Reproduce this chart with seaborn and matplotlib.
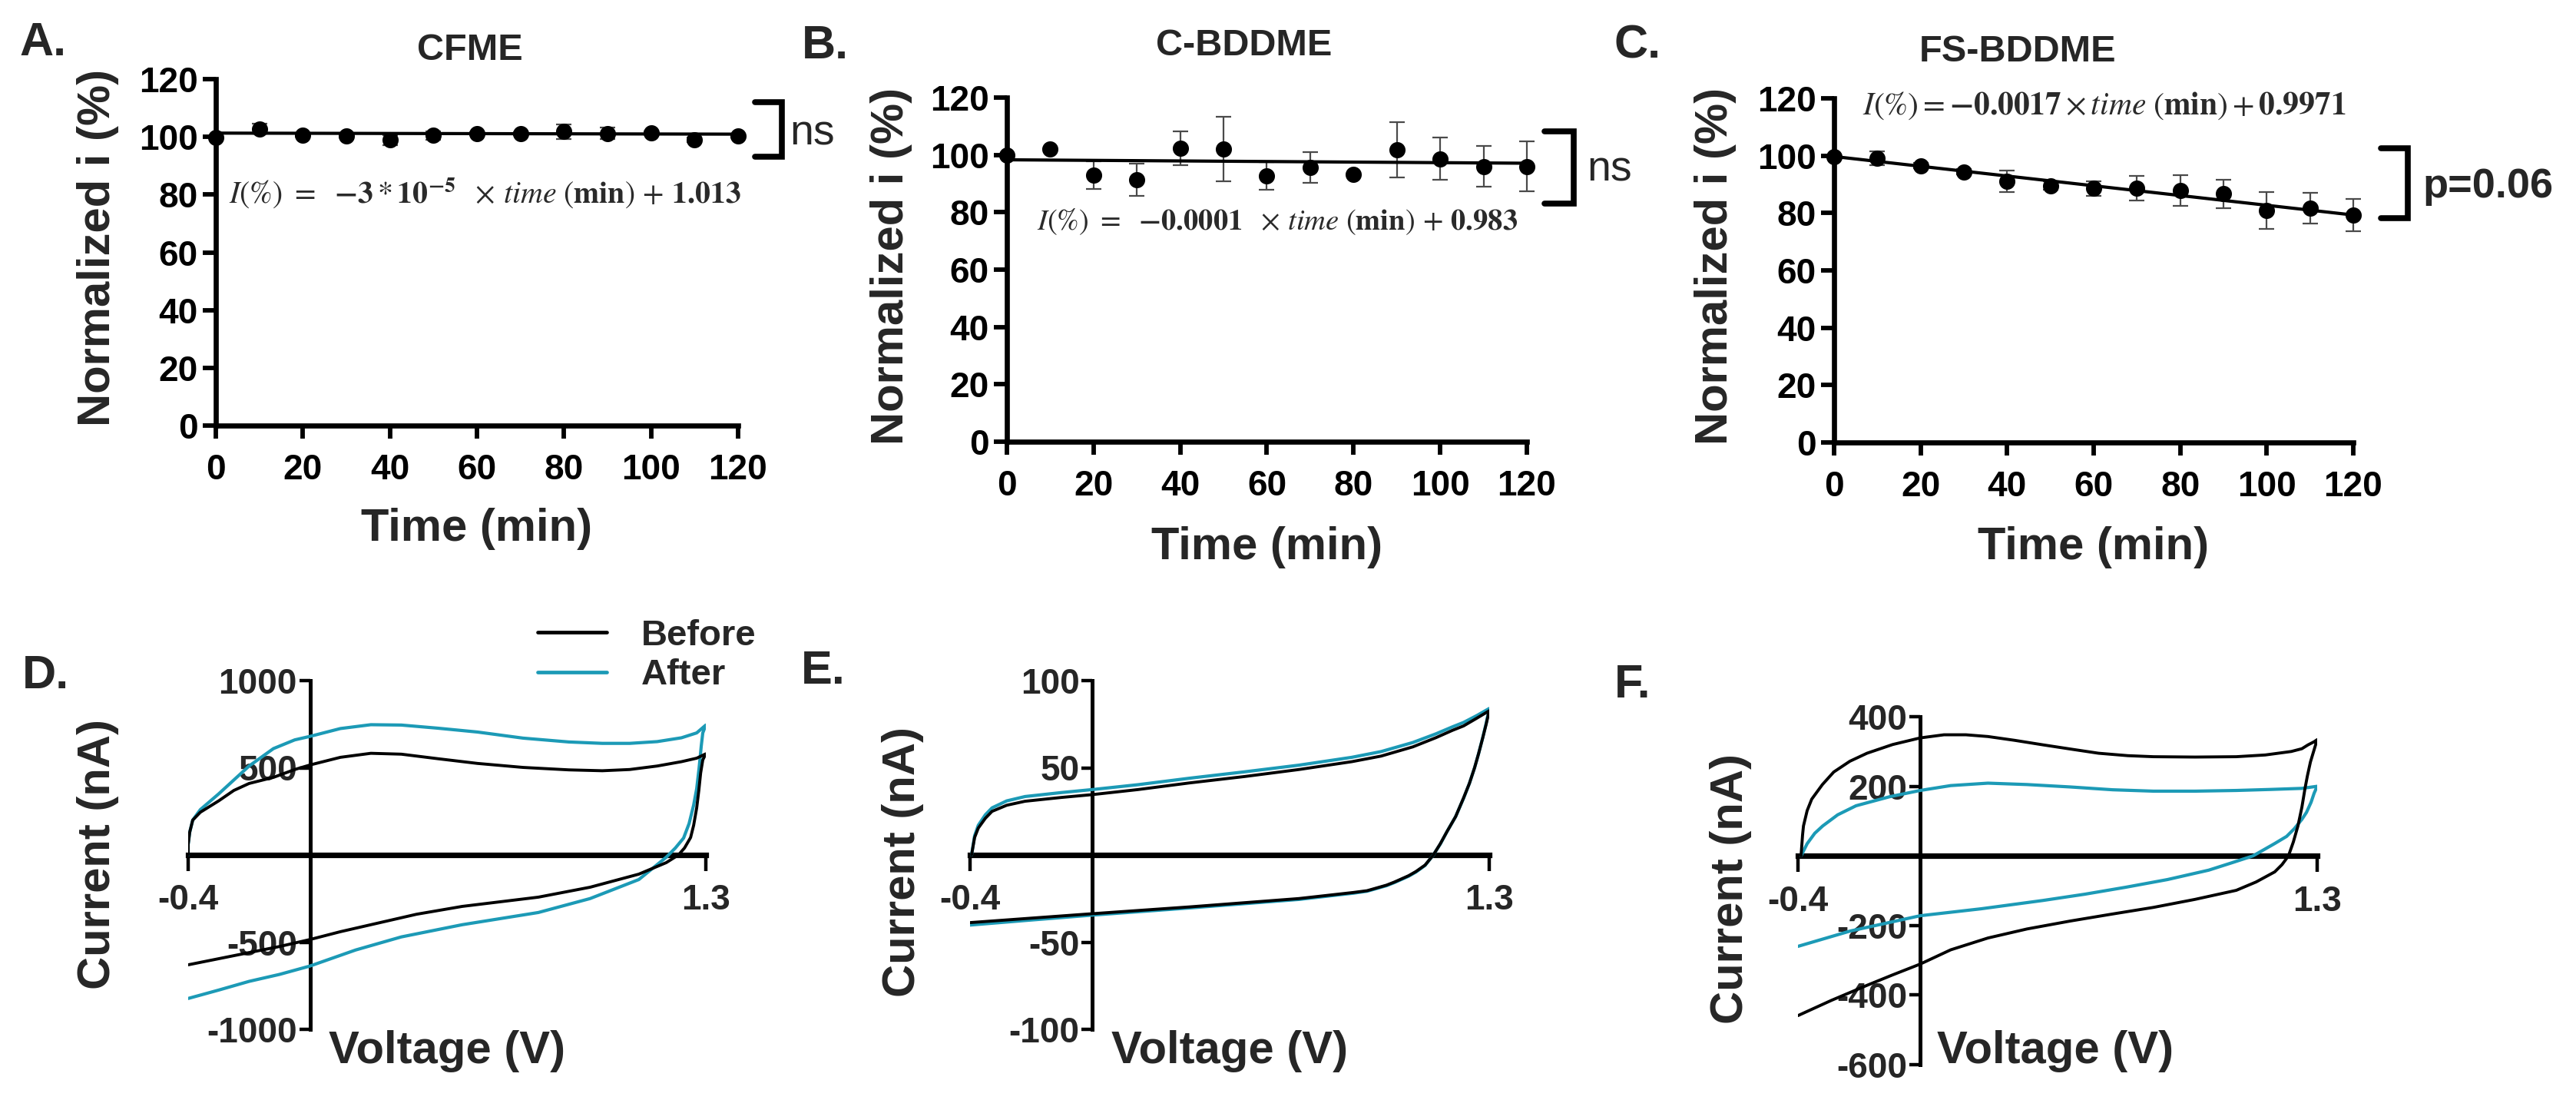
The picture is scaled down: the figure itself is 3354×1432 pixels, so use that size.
import numpy as np
import pandas as pd
import matplotlib
matplotlib.use("Agg")
import matplotlib.pyplot as plt
from matplotlib.lines import Line2D
import seaborn as sns

# ---------------- data ----------------
time_min = [0, 10, 20, 30, 40, 50, 60, 70, 80, 90, 100, 110, 120]
top_ticks = [0, 20, 40, 60, 80, 100, 120]

cfme_mean = [99.8, 102.8, 100.5, 100.4, 98.9, 100.5, 101.2, 101.2, 101.8, 101.2, 101.3, 99.0, 100.4]
cfme_err = [0.0, 1.8, 0.5, 0.5, 1.8, 1.5, 0.5, 0.5, 2.5, 2.0, 0.5, 0.8, 0.5]
cbdd_mean = [99.8, 102.1, 92.9, 91.3, 102.3, 102.1, 92.7, 95.6, 93.3, 101.7, 98.7, 96.0, 96.0]
cbdd_err = [0.0, 0.0, 4.9, 5.6, 6.0, 11.3, 4.8, 5.3, 0.0, 9.6, 7.3, 7.0, 8.6]
fsbd_mean = [99.6, 99.1, 96.5, 94.4, 91.0, 89.5, 88.6, 88.6, 87.9, 86.7, 80.9, 81.7, 79.3]
fsbd_err = [0.0, 2.3, 1.0, 1.0, 3.8, 1.5, 2.6, 4.3, 5.4, 4.9, 6.4, 5.3, 5.6]

# linear fits read from the printed equations (in %)
fit_slope = [-0.003, -0.01, -0.17]
fit_intercept = [101.3, 98.3, 99.71]

titles = ["CFME", "C-BDDME", "FS-BDDME"]
equations = [
    r"$I(\%)\ =\ \ \mathbf{-3} * \mathbf{10}^{\mathbf{-5}}\ \ \times\, \mathit{time}\ (\mathbf{min})\, +\, \mathbf{1.013}$",
    r"$I(\%)\ =\ \ \mathbf{-0.0001}\ \ \times\, \mathit{time}\ (\mathbf{min})\, +\, \mathbf{0.983}$",
    r"$I(\%) = \mathbf{-0.0017} \times \mathit{time}\ (\mathbf{min}) + \mathbf{0.9971}$",
]
sig_labels = ["ns", "ns", "p=0.06"]

# CV curves (voltage in V, current in nA), forward scan then reverse scan
d_before_v = [-0.40, -0.40, -0.395, -0.385, -0.36, -0.30, -0.25, -0.20, -0.12, -0.05, 0.00, 0.10, 0.20, 0.30,
              0.42, 0.55, 0.70, 0.85, 0.96, 1.05, 1.14, 1.22, 1.27, 1.30,
              1.29, 1.283, 1.277, 1.27, 1.26, 1.25, 1.23, 1.21, 1.17, 1.08, 0.92, 0.75, 0.50, 0.35,
              0.20, 0.10, 0.00, -0.10, -0.20, -0.30, -0.40]
d_before_i = [0, 60, 130, 200, 245, 310, 370, 410, 445, 490, 516, 560, 583, 578,
              552, 525, 502, 488, 483, 490, 510, 535, 555, 580,
              545, 470, 370, 270, 170, 100, 40, 0, -44, -110, -185, -242, -295, -340,
              -400, -440, -485, -525, -560, -595, -630]
d_after_v = [-0.40, -0.40, -0.395, -0.385, -0.36, -0.30, -0.25, -0.20, -0.12, -0.05, 0.00, 0.10, 0.20, 0.30,
             0.42, 0.55, 0.70, 0.85, 0.96, 1.05, 1.14, 1.22, 1.27, 1.30,
             1.29, 1.285, 1.278, 1.27, 1.26, 1.245, 1.227, 1.20, 1.17, 1.08, 0.92, 0.75, 0.50, 0.30,
             0.15, 0.00, -0.10, -0.20, -0.30, -0.40]
d_after_i = [0, 60, 130, 200, 260, 350, 430, 510, 610, 660, 680, 725, 747, 745,
             727, 705, 670, 648, 640, 640, 650, 672, 700, 745,
             700, 625, 500, 380, 286, 180, 97, 40, -13, -141, -250, -330, -400, -470,
             -545, -637, -685, -725, -775, -823]

e_before_v = [-0.395, -0.385, -0.373, -0.35, -0.328, -0.28, -0.22, -0.10, 0.00, 0.15, 0.318, 0.50, 0.677,
              0.85, 0.946, 1.05, 1.126, 1.18, 1.216, 1.26, 1.30,
              1.29, 1.279, 1.265, 1.252, 1.235, 1.216, 1.19, 1.162, 1.14, 1.117, 1.09, 1.06, 1.036, 0.99,
              0.964, 0.90, 0.856, 0.677, 0.318, 0.00, -0.22, -0.40]
e_before_i = [0, 10, 15.4, 21, 25, 28.5, 30.8, 33, 34.6, 37.5, 41.3, 45, 49,
              53.5, 56.7, 62, 67.3, 71.5, 74, 78.5, 82.7,
              75, 67.3, 58, 50, 41, 32.7, 22, 13.5, 6.5, 0, -5.8, -9.5, -11.9, -15.5,
              -17.3, -20.5, -21.5, -25, -29.8, -33.7, -36.5, -38.8]
e_after_v = [-0.395, -0.385, -0.373, -0.35, -0.328, -0.28, -0.22, -0.10, 0.00, 0.15, 0.318, 0.50, 0.677,
             0.85, 0.946, 1.05, 1.126, 1.18, 1.216, 1.26, 1.30,
             1.29, 1.279, 1.265, 1.252, 1.235, 1.216, 1.19, 1.162, 1.14, 1.117, 1.09, 1.06, 1.036, 0.99,
             0.964, 0.90, 0.856, 0.677, 0.318, 0.00, -0.22, -0.40]
e_after_i = [0, 11, 17, 23, 27, 31, 33.5, 35.8, 37.5, 40.3, 44, 47.7, 51.5,
             56, 59.3, 64.5, 69.5, 73.5, 76, 80, 84,
             75.5, 67.5, 58, 50, 41, 32.5, 22, 13.5, 6.3, 0, -6, -9.8, -12.2, -15.8,
             -17.6, -20.8, -21.9, -25.5, -30.4, -34.5, -37.6, -40.2]

f_before_v = [-0.39, -0.385, -0.382, -0.37, -0.355, -0.32, -0.283, -0.23, -0.174, -0.09, 0.00, 0.078, 0.15,
              0.222, 0.31, 0.403, 0.50, 0.584, 0.68, 0.764, 0.90, 1.035, 1.13, 1.215, 1.25, 1.27, 1.29, 1.30,
              1.29, 1.278, 1.268, 1.26, 1.25, 1.237, 1.222, 1.206, 1.185, 1.161, 1.10, 1.035, 0.90, 0.764,
              0.63, 0.493, 0.35, 0.222, 0.10, 0.00, -0.09, -0.174, -0.29, -0.40]
f_before_i = [0, 60, 86, 130, 163, 205, 241, 272, 295, 320, 339, 348, 348,
              343, 332, 319, 306, 295, 288, 285, 284, 285, 290, 300, 308, 319, 328, 334,
              305, 270, 230, 193, 140, 86, 40, 0, -25, -46, -75, -99, -125, -148,
              -167, -187, -210, -236, -270, -311, -342, -372, -415, -459]
f_after_v = [-0.39, -0.37, -0.345, -0.319, -0.27, -0.21, -0.10, 0.00, 0.10, 0.222, 0.35, 0.493, 0.63,
             0.764, 0.90, 1.035, 1.15, 1.25, 1.30,
             1.29, 1.28, 1.265, 1.25, 1.225, 1.20, 1.16, 1.125, 1.09, 1.02, 0.945, 0.81, 0.674,
             0.54, 0.403, 0.20, 0.00, -0.229, -0.40]
f_after_i = [0, 35, 65, 86, 118, 144, 170, 188, 202, 209, 205, 198, 190,
             186, 186, 188, 191, 194, 200,
             180, 154, 125, 105, 78, 56, 35, 17.5, 0, -20, -41, -68, -90,
             -110, -128, -152, -172, -216, -260]

cv_xticks = [-0.4, 1.3]
cv_xticklabels = ["-0.4", "1.3"]
d_yticks = [-1000, -500, 500, 1000]
e_yticks = [-100, -50, 50, 100]
f_yticks = [-600, -400, -200, 200, 400]
cv_ylims = [(-1000, 1000), (-100, 100), (-600, 400)]
legend_labels = ["Before", "After"]
panel_letters = ["A.", "B.", "C.", "D.", "E.", "F."]

# ---------------- style ----------------
sns.set_theme(style="ticks")
plt.rcParams["font.family"] = ["Liberation Sans", "DejaVu Sans"]
plt.rcParams["mathtext.fontset"] = "stix"
plt.rcParams["axes.unicode_minus"] = False

CYAN = "#1c9ab6"
W, H = 3355, 1432
fig = plt.figure(figsize=(W / 100, H / 100), dpi=100)
fig.patch.set_facecolor("white")


def px_axes(l, r, t, b):
    return fig.add_axes([l / W, 1 - b / H, (r - l) / W, (b - t) / H])


def ftext(x, y, s, **kw):
    return fig.text(x / W, 1 - y / H, s, **kw)


# ---------------- top panels ----------------
top_boxes = [(281, 961, 103, 554), (1311, 1988, 127, 575), (2388, 3064, 128, 576)]
means = [cfme_mean, cbdd_mean, fsbd_mean]
errs = [cfme_err, cbdd_err, fsbd_err]
eq_pos = [(3.0, 80.3), (6.9, 76.6), (6.6, 117.3)]
eq_width_px = [668, 625, 630]
bracket_x = [(123.8, 130.1), (124.1, 130.8), (126.4, 132.6)]
bracket_y = [(93, 112), (83, 108.2), (78.1, 102.7)]
sig_pos = [(131.8, 101.0), (133.8, 94.6), (136.0, 89.2)]
title_pos = [(612, 66), (1620, 60), (2627, 67)]
ylab_pos = [(128, 322), (1160, 346), (2234, 346)]
xlab_pos = [(621, 688), (1650, 712), (2726, 712)]

eq_texts = []
for k in range(3):
    ax = px_axes(*top_boxes[k])
    df = pd.DataFrame({"t": time_min, "i": means[k], "e": errs[k]})
    ax.errorbar(df["t"], df["i"], yerr=df["e"], fmt="none", ecolor="#4a4a4a",
                elinewidth=1.6, capsize=7, capthick=1.6, clip_on=False, zorder=3)
    fit_t = [time_min[0], time_min[-1]]
    fit_i = [fit_intercept[k] + fit_slope[k] * t for t in fit_t]
    sns.lineplot(x=fit_t, y=fit_i, color="black", linewidth=3.0, ax=ax, zorder=4)
    sns.scatterplot(data=df, x="t", y="i", color="black", s=230, linewidth=0,
                    ax=ax, clip_on=False, zorder=5)
    ax.set_xlim(0, 120)
    ax.set_ylim(0, 120)
    ax.set_xticks(top_ticks)
    ax.set_yticks(top_ticks)
    ax.set_xlabel("")
    ax.set_ylabel("")
    sns.despine(ax=ax)
    for sp in ("left", "bottom"):
        ax.spines[sp].set_linewidth(4.8)
        ax.spines[sp].set_color("black")
    ax.tick_params(axis="both", width=4.2, length=12, color="black",
                   labelsize=33, labelcolor="black")
    ax.tick_params(axis="x", pad=14)
    ax.tick_params(axis="y", pad=5)
    for lab in ax.get_xticklabels() + ax.get_yticklabels():
        lab.set_fontweight("bold")
    ax.set_facecolor("white")

    t = ax.text(eq_pos[k][0], eq_pos[k][1], equations[k], fontsize=28, color="#2a2a2a",
                ha="left", va="center")
    eq_texts.append(t)
    bx0, bx1 = bracket_x[k]
    by0, by1 = bracket_y[k]
    ax.plot([bx0, bx1, bx1, bx0], [by1, by1, by0, by0], color="black", lw=5.5,
            clip_on=False, solid_joinstyle="miter")
    ax.text(sig_pos[k][0], sig_pos[k][1], sig_labels[k], fontsize=40 if k < 2 else 39,
            fontweight="normal" if k < 2 else "bold", ha="left", va="center", clip_on=False)

    ftext(*title_pos[k], titles[k], fontsize=35, fontweight="bold", ha="center", va="center")
    ftext(*ylab_pos[k], "Normalized i (%)", fontsize=43, fontweight="bold", rotation=90,
          ha="center", va="center")
    ftext(*xlab_pos[k], "Time (min)", fontsize=43, fontweight="bold", ha="center", va="center")

# ---------------- bottom panels ----------------
bot_boxes = [(245, 919, 886, 1340), (1263, 1939, 886, 1340), (2341, 3017, 933, 1386)]
cv_data = [(d_before_v, d_before_i, d_after_v, d_after_i),
           (e_before_v, e_before_i, e_after_v, e_after_i),
           (f_before_v, f_before_i, f_after_v, f_after_i)]
cv_yticks = [d_yticks, e_yticks, f_yticks]
cur_lab_pos = [(128, 1112), (1176, 1122), (2254, 1157)]
volt_lab_x = [428, 1447, 2522]

for k in range(3):
    ax = px_axes(*bot_boxes[k])
    bv, bi, av, ai = cv_data[k]
    sns.lineplot(x=av, y=ai, sort=False, estimator=None, color=CYAN, linewidth=3.0,
                 ax=ax, zorder=3)
    sns.lineplot(x=bv, y=bi, sort=False, estimator=None, color="black", linewidth=2.8,
                 ax=ax, zorder=4)
    ax.set_xlim(-0.4, 1.3)
    ax.set_ylim(*cv_ylims[k])
    ax.set_xlabel("")
    ax.set_ylabel("")
    ax.spines["top"].set_visible(False)
    ax.spines["right"].set_visible(False)
    ax.spines["left"].set_position(("data", 0))
    ax.spines["bottom"].set_position(("data", 0))
    ax.spines["left"].set_linewidth(3.6)
    ax.spines["bottom"].set_linewidth(5.2)
    ax.spines["left"].set_color("black")
    ax.spines["bottom"].set_color("black")
    ax.set_xticks(cv_xticks)
    ax.set_xticklabels(cv_xticklabels)
    ax.set_yticks(cv_yticks[k])
    ax.set_yticklabels([str(v) for v in cv_yticks[k]])
    ax.tick_params(axis="x", width=3.2, length=15, pad=12, labelsize=33, color="black")
    ax.tick_params(axis="y", width=3.2, length=10, pad=2, labelsize=33, color="black")
    for lab in ax.get_xticklabels() + ax.get_yticklabels():
        lab.set_fontweight("bold")
    ax.patch.set_alpha(0)

    ftext(*cur_lab_pos[k], "Current (nA)", fontsize=43, fontweight="bold", rotation=90,
          ha="center", va="center")
    ftext(volt_lab_x[k], 1368, "Voltage (V)", fontsize=43, fontweight="bold",
          ha="left", va="center")

    if k == 0:
        handles = [Line2D([0], [0], color="black", lw=3.4),
                   Line2D([0], [0], color=CYAN, lw=3.4)]
        ax.legend(handles, legend_labels, loc="upper left",
                  bbox_to_anchor=(700 / W, 1 - 806 / H), bbox_transform=fig.transFigure,
                  frameon=False, prop={"weight": "bold", "size": 34},
                  handlelength=1.9, handletextpad=0.95, labelspacing=0.15,
                  borderpad=0, borderaxespad=0)

# ---------------- panel letters ----------------
letter_pos = [(25, 56), (1044, 61), (2102, 60), (29, 881), (1043, 875), (2102, 892)]
for (x, y), s in zip(letter_pos, panel_letters):
    ftext(x, y, s, fontsize=44, fontweight="bold", ha="left", va="center")

# fit the equation texts to the width they take in the reference
fig.canvas.draw()
renderer = fig.canvas.get_renderer()
for t, target in zip(eq_texts, eq_width_px):
    w = t.get_window_extent(renderer).width
    if w > 0:
        t.set_fontsize(min(34, max(20, t.get_fontsize() * target / w)))

fig.savefig("out.png", dpi=100, facecolor="white")
